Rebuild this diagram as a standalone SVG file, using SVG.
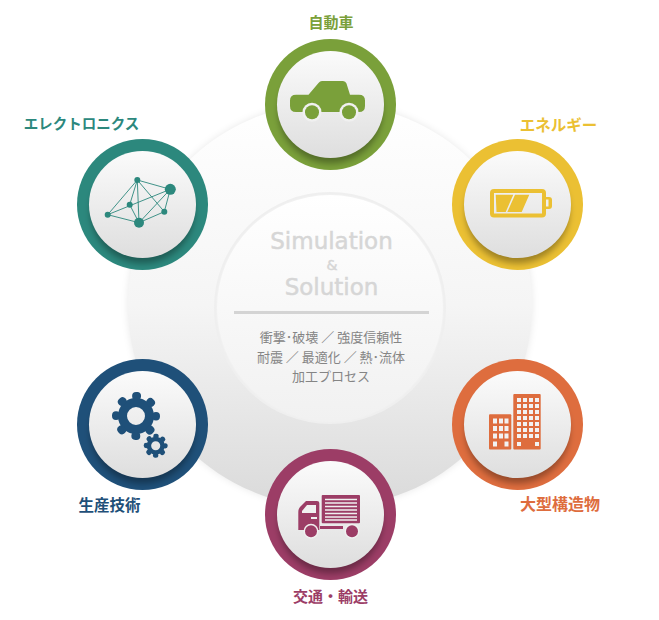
<svg xmlns="http://www.w3.org/2000/svg" width="659" height="620" viewBox="0 0 659 620">
<style>
.lbl{font-family:"Noto Sans CJK JP","Noto Sans",sans-serif;font-size:15px;font-weight:700;text-anchor:middle}
.title{font-family:"DejaVu Sans","Liberation Sans",sans-serif;fill:#d6d6d6;stroke:#d6d6d6;stroke-width:.5;text-anchor:middle}
.sub{font-family:"Noto Sans CJK JP","Noto Sans",sans-serif;font-size:13px;fill:#858585;text-anchor:middle}
.face{fill:url(#face)}
.shade{fill:#000;fill-opacity:.32;filter:url(#blur3)}
.win{fill:#f2f2f2}
</style>
<defs>
<linearGradient id="big" x1="0" y1="0" x2="0" y2="1"><stop offset="0" stop-color="#ffffff"/><stop offset=".5" stop-color="#f5f5f5"/><stop offset="1" stop-color="#dadada"/></linearGradient>
<linearGradient id="mid" x1="0" y1="0" x2="0" y2="1"><stop offset="0" stop-color="#ffffff"/><stop offset="1" stop-color="#f1f1f1"/></linearGradient>
<linearGradient id="face" x1="0" y1="0" x2="0" y2="1"><stop offset="0" stop-color="#fbfbfb"/><stop offset="1" stop-color="#dedede"/></linearGradient>
<filter id="blur3" x="-30%" y="-30%" width="160%" height="160%"><feGaussianBlur stdDeviation="3"/></filter>
<filter id="blur5" x="-20%" y="-20%" width="140%" height="140%"><feGaussianBlur stdDeviation="3"/></filter>
<clipPath id="c1"><circle cx="330.5" cy="104.5" r="65.5"/></clipPath>
<clipPath id="c2"><circle cx="517.5" cy="204.5" r="65.5"/></clipPath>
<clipPath id="c3"><circle cx="517.5" cy="424.5" r="65.5"/></clipPath>
<clipPath id="c4"><circle cx="330.5" cy="514.5" r="65.5"/></clipPath>
<clipPath id="c5"><circle cx="142.5" cy="424.5" r="65.5"/></clipPath>
<clipPath id="c6"><circle cx="142.5" cy="204.5" r="65.5"/></clipPath>
</defs>
<rect width="659" height="620" fill="#ffffff"/>
<g id="hub">
<circle cx="330" cy="305" r="203" fill="#000" fill-opacity=".07" filter="url(#blur5)"/>
<circle cx="330" cy="305" r="202" fill="url(#big)"/>
<circle cx="330" cy="308" r="115" fill="#f1f1f1" stroke="#efefef" stroke-width="2"/>
<circle cx="330" cy="308" r="113" fill="url(#mid)"/>
<text class="title" x="331.500" y="249" font-size="23">Simulation</text>
<text class="title" x="332" y="270" font-size="14">&amp;</text>
<text class="title" x="331.500" y="295" font-size="23">Solution</text>
<rect x="234" y="311" width="195" height="3" fill="#d4d4d4"/>
<text class="sub" x="331" y="342">衝撃･破壊 ／ 強度信頼性</text>
<text class="sub" x="331" y="361.500">耐震 ／ 最適化 ／ 熱･流体</text>
<text class="sub" x="331" y="381">加工プロセス</text>
</g>
<g id="node-car">
<circle cx="330.500" cy="104.500" r="65.500" fill="#7aa03a"/>
<circle class="shade" cx="330.500" cy="111.500" r="52" clip-path="url(#c1)"/>
<circle class="face" cx="330.500" cy="104.500" r="53.500"/>
<path d="M296 94.700H308.500L318.500 83Q320 81 322 81H343Q345.500 81 346.500 83.500L350 94.700H359Q365 94.700 365 100.500V106Q365 112 359 112H296Q290 112 290 106V100.500Q290 94.700 296 94.700Z" fill="#7aa03a"/>
<circle cx="312" cy="112.300" r="9.500" fill="#f0f0f0"/><circle cx="349" cy="112.300" r="9.500" fill="#f0f0f0"/>
<circle cx="312" cy="112.300" r="7" fill="#7aa03a"/><circle cx="349" cy="112.300" r="7" fill="#7aa03a"/>
<text class="lbl" x="331" y="28" fill="#7aa03a">自動車</text>
</g>
<g id="node-energy">
<circle cx="517.500" cy="204.500" r="65.500" fill="#ebc033"/>
<circle class="shade" cx="517.500" cy="211.500" r="52" clip-path="url(#c2)"/>
<circle class="face" cx="517.500" cy="204.500" r="53.500"/>
<rect x="492" y="191" width="52" height="24.500" rx="2" fill="none" stroke="#ebc033" stroke-width="4"/>
<path d="M546 197H549Q552 197 552 200V206Q552 209 549 209H546Z" fill="#ebc033"/>
<rect x="546" y="199.500" width="2.500" height="7" fill="#f0f0f0"/>
<path d="M495.700 194.700H513.300L505.700 212H496.500Z M515 194.700H529.300L521.700 212H507.300Z" fill="#ebc033"/>
<text class="lbl" x="558.500" y="131" fill="#ebc033" style="font-size:15.500px">エネルギー</text>
</g>
<g id="node-building">
<circle cx="517.500" cy="424.500" r="65.500" fill="#de6d3e"/>
<circle class="shade" cx="517.500" cy="431.500" r="52" clip-path="url(#c3)"/>
<circle class="face" cx="517.500" cy="424.500" r="53.500"/>
<rect x="513.300" y="394" width="27.400" height="55.500" rx="1" fill="#de6d3e"/>
<rect x="489" y="414.300" width="22.300" height="35.200" rx="1" fill="#de6d3e"/>
<path class="win" d="M517 398h4v4h-4zM523 398h4v4h-4zM529 398h4v4h-4zM535 398h4v4h-4zM517 404h4v4h-4zM523 404h4v4h-4zM529 404h4v4h-4zM535 404h4v4h-4zM517 410h4v4h-4zM523 410h4v4h-4zM529 410h4v4h-4zM535 410h4v4h-4zM517 416h4v4h-4zM523 416h4v4h-4zM529 416h4v4h-4zM535 416h4v4h-4zM517 422h4v4h-4zM523 422h4v4h-4zM529 422h4v4h-4zM535 422h4v4h-4zM517 428h4v4h-4zM523 428h4v4h-4zM529 428h4v4h-4zM535 428h4v4h-4zM517 434h4v4h-4zM523 434h4v4h-4zM529 434h4v4h-4zM535 434h4v4h-4zM517 442h4v4h-4zM535 442h4v4h-4z"/>
<path class="win" d="M493 418.500h4v5h-4zM499 418.500h4v5h-4zM504.500 418.500h4v5h-4zM493 426h4v5h-4zM499 426h4v5h-4zM504.500 426h4v5h-4zM493 433.500h4v5h-4zM499 433.500h4v5h-4zM504.500 433.500h4v5h-4zM493 441.500h4v5h-4zM504.500 441.500h4v5h-4z"/>
<text class="lbl" x="560" y="510" fill="#de6d3e" style="font-size:16px">大型構造物</text>
</g>
<g id="node-transport">
<circle cx="330.500" cy="514.500" r="65.500" fill="#9c3d66"/>
<circle class="shade" cx="330.500" cy="521.500" r="52" clip-path="url(#c4)"/>
<circle class="face" cx="330.500" cy="514.500" r="53.500"/>
<rect x="321.700" y="495" width="38.300" height="28.300" rx="1" fill="#9c3d66"/>
<path d="M325 499.500H357M325 503H357M325 506.500H357M325 510H357M325 513.500H357M325 517H357M325 520H357" stroke="#f0f0f0" stroke-width="1.500" fill="none"/>
<path d="M306 501H317Q319.300 501 319.300 503V530H298.300V512Q298.300 509 300 507Z" fill="#9c3d66"/>
<path d="M307 505H316V513H302V511Z" fill="#f0f0f0"/>
<rect x="311" y="517" width="6" height="2" fill="#f0f0f0"/>
<rect x="320" y="526" width="23" height="3" fill="#9c3d66"/>
<circle cx="311" cy="531.300" r="7.500" fill="#f0f0f0"/><circle cx="352" cy="531.300" r="7.500" fill="#f0f0f0"/>
<circle cx="311" cy="531.300" r="6" fill="#9c3d66"/><circle cx="352" cy="531.300" r="6" fill="#9c3d66"/>
<text class="lbl" x="330.500" y="602" fill="#9c3d66">交通・輸送</text>
</g>
<g id="node-production">
<circle cx="142.500" cy="424.500" r="65.500" fill="#1f5079"/>
<circle class="shade" cx="142.500" cy="431.500" r="52" clip-path="url(#c5)"/>
<circle class="face" cx="142.500" cy="424.500" r="53.500"/>
<circle cx="136" cy="416" r="13.500" fill="none" stroke="#1f5079" stroke-width="9"/>
<circle cx="136" cy="416" r="20" fill="none" stroke="#1f5079" stroke-width="8" stroke-dasharray="1 14.708" stroke-dashoffset=".5" stroke-linecap="round"/>
<circle cx="155.700" cy="445.700" r="6.800" fill="none" stroke="#1f5079" stroke-width="4.500"/>
<circle cx="155.700" cy="445.700" r="9.500" fill="none" stroke="#1f5079" stroke-width="5" stroke-dasharray=".5 6.961" stroke-dashoffset=".25" stroke-linecap="round"/>
<text class="lbl" x="109.500" y="511" fill="#1f5079" style="font-size:15.500px">生産技術</text>
</g>
<g id="node-electronics">
<circle cx="142.500" cy="204.500" r="65.500" fill="#2c887d"/>
<circle class="shade" cx="142.500" cy="211.500" r="52" clip-path="url(#c6)"/>
<circle class="face" cx="142.500" cy="204.500" r="53.500"/>
<path d="M137.300 180L170.300 189.300M137.300 180L129.700 204.700M137.300 180L107.700 214.700M137.300 180L139 222.700M137.300 180L164.300 211.700M170.300 189.300L107.700 214.700M170.300 189.300L164.300 211.700M170.300 189.300L139 222.700M129.700 204.700L139 222.700M107.700 214.700L139 222.700M139 222.700L164.300 211.700" stroke="#2c887d" stroke-width=".9" fill="none"/>
<g fill="#2c887d"><circle cx="137.300" cy="180" r="3"/><circle cx="170.300" cy="189.300" r="5.500"/><circle cx="129.700" cy="204.700" r="3"/><circle cx="164.300" cy="211.700" r="3"/><circle cx="139" cy="222.700" r="5"/><circle cx="107.700" cy="214.700" r="3"/></g>
<text class="lbl" x="81.500" y="129" fill="#2c887d" style="font-size:14.500px">エレクトロニクス</text>
</g>
</svg>
